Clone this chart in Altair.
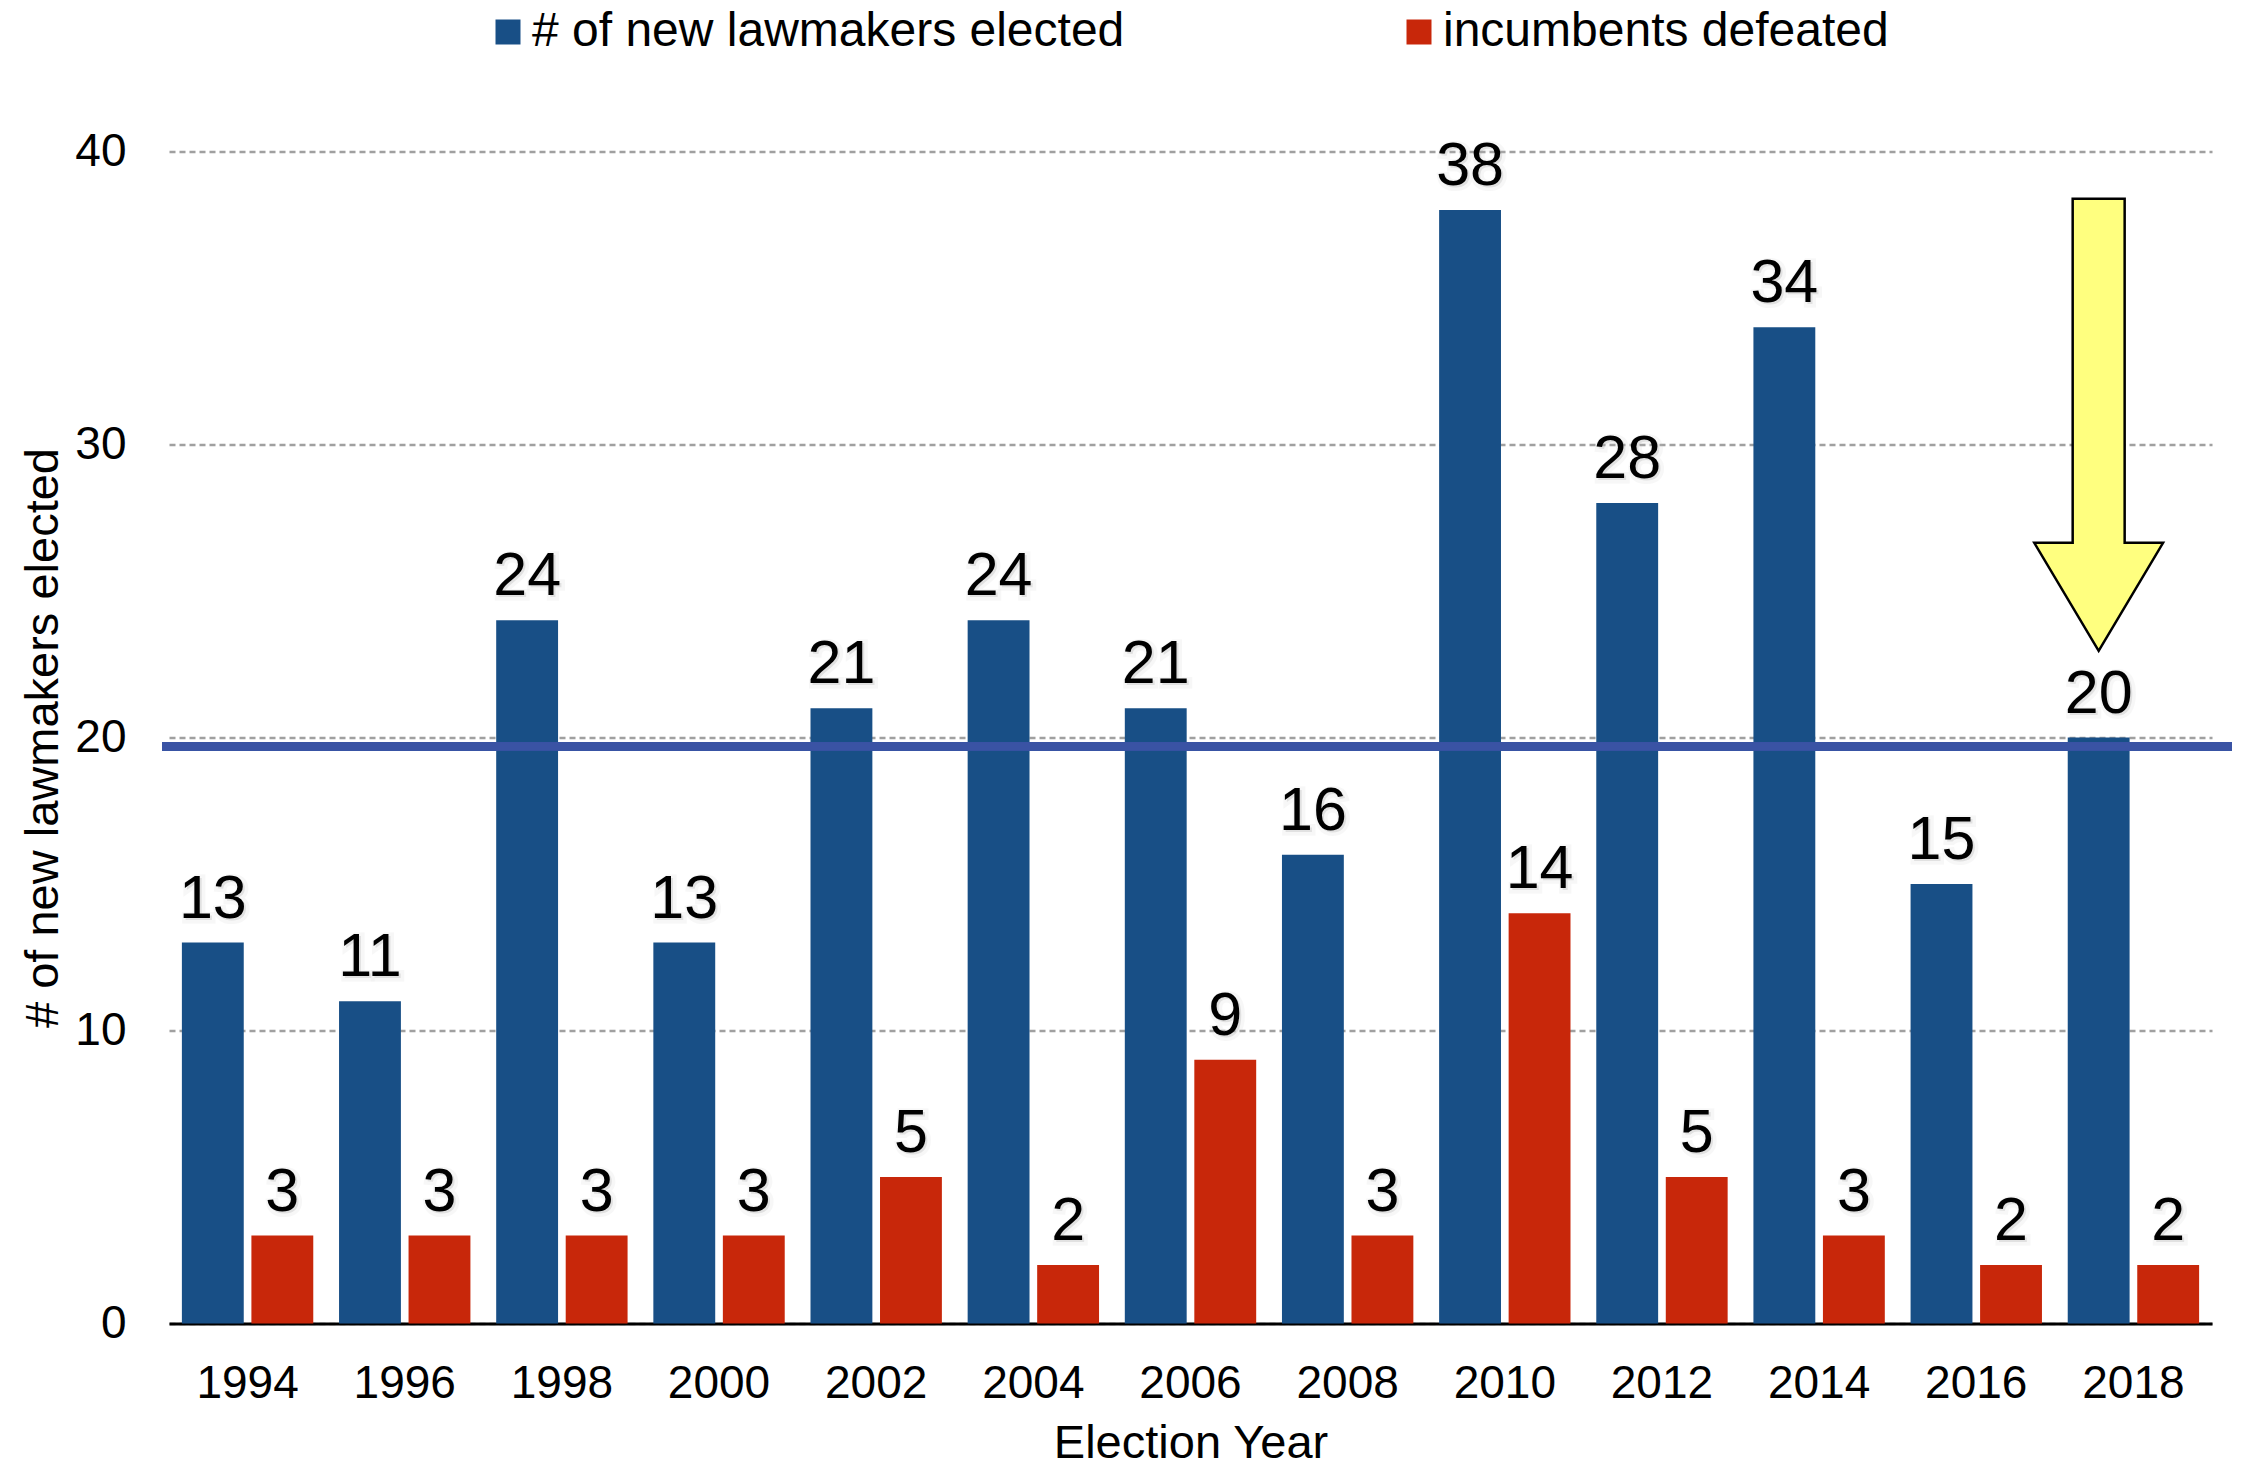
import altair as alt
import pandas as pd

# ---- data ----
years = ["1994", "1996", "1998", "2000", "2002", "2004", "2006",
         "2008", "2010", "2012", "2014", "2016", "2018"]
new_lawmakers = [13, 11, 24, 13, 21, 24, 21, 16, 38, 28, 34, 15, 20]
incumbents_defeated = [3, 3, 3, 3, 5, 2, 9, 3, 14, 5, 3, 2, 2]
series_names = ["# of new lawmakers elected", "incumbents defeated"]
series_colors = ["#184F86", "#C8270A"]
average_value = 19.7
arrow_year = "2018"
arrow_value = 30.67
y_ticks = [0, 10, 20, 30, 40]

rows = []
for yr, a, b in zip(years, new_lawmakers, incumbents_defeated):
    rows.append({"year": yr, "series": series_names[0], "value": a})
    rows.append({"year": yr, "series": series_names[1], "value": b})
df = pd.DataFrame(rows)
arrow_df = pd.DataFrame([{"year": arrow_year, "series": series_names[0], "value": arrow_value}])

W, H = 2043, 1172
FONT = "Liberation Sans"

x_enc = alt.X(
    "year:N", sort=years,
    scale=alt.Scale(paddingInner=0.164, paddingOuter=0.082),
    axis=alt.Axis(title="Election Year", labelAngle=0, labelFontSize=46, labelPadding=38,
                  ticks=False, domainColor="black", domainWidth=3, grid=False,
                  titleFontSize=47, titlePadding=14, labelColor="black",
                  titleColor="black", titleFontWeight="normal"),
)
xoff = alt.XOffset("series:N", sort=series_names,
                   scale=alt.Scale(paddingInner=0.11, paddingOuter=0))
y_enc = alt.Y(
    "value:Q",
    scale=alt.Scale(domain=[0, 40], nice=False),
    axis=alt.Axis(values=y_ticks, grid=True, gridDash=[6, 4], gridColor="#A0A0A0",
                  gridWidth=2.5, domain=False, ticks=False, labelFontSize=46,
                  labelPadding=43, labelColor="black",
                  title="# of new lawmakers elected", titleFontSize=47,
                  titleColor="black", titleFontWeight="normal",
                  titleX=-112, titleY=H / 2, titleAngle=270,
                  titleBaseline="alphabetic", titleAlign="center"),
)
color_enc = alt.Color(
    "series:N", sort=series_names,
    scale=alt.Scale(domain=series_names, range=series_colors),
    legend=alt.Legend(orient="none", legendX=315, legendY=-143.5, direction="horizontal",
                      title=None, symbolType="square", symbolSize=625,
                      symbolStrokeWidth=0, labelFontSize=48, labelOffset=0,
                      columnPadding=270, padding=0, labelLimit=2000,
                      labelColor="black", labelFont=FONT),
)

bars = alt.Chart(df).mark_bar().encode(x=x_enc, xOffset=xoff, y=y_enc, color=color_enc)

avg_line = alt.Chart(df).mark_rule(color="#3A53A4", strokeWidth=8).encode(
    y=alt.datum(average_value), x=alt.value(-7), x2=alt.value(W + 20)
)

shadow = alt.Chart(df).mark_text(
    dy=-23, dx=2, baseline="alphabetic", fontSize=61, font=FONT,
    color="#9a9a9a", stroke="#c8c8c8", strokeWidth=7, opacity=0.35, strokeOpacity=0.4
).encode(x=x_enc, xOffset=xoff, y=y_enc, text="value:Q")

labels = alt.Chart(df).mark_text(
    dy=-25, baseline="alphabetic", fontSize=61, font=FONT, color="black"
).encode(x=x_enc, xOffset=xoff, y=y_enc, text="value:Q")

arrow_path = ("M -0.115 -1 L 0.115 -1 L 0.115 0.522 L 0.285 0.522 L 0 1 "
              "L -0.285 0.522 L -0.115 0.522 Z")
arrow = alt.Chart(arrow_df).mark_point(
    shape=arrow_path, size=452 * 452, filled=True, fill="#FFFF7F",
    stroke="black", strokeWidth=2.5, opacity=1
).encode(x=x_enc, xOffset=xoff, y=y_enc)

chart = alt.layer(bars, avg_line, shadow, labels, arrow).properties(
    width=W, height=H,
    autosize=alt.AutoSizeParams(type="none"),
    padding={"left": 161, "top": 143.5, "right": 21, "bottom": 135.5},
    background="white",
).configure_view(stroke=None).configure_axis(
    labelFont=FONT, titleFont=FONT
).configure_legend(labelFont=FONT)

chart.save("out.html", embed_options={"renderer": "svg", "actions": False})
